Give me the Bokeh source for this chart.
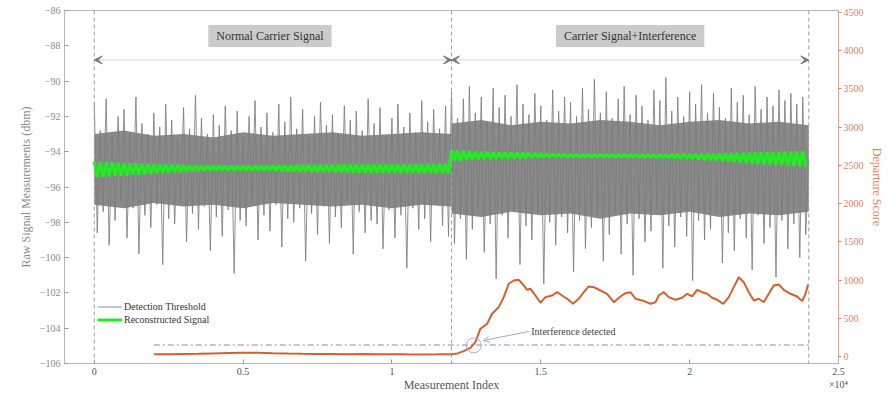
import numpy as np
from bokeh.plotting import figure
from bokeh.models import (Range1d, LinearAxis, FixedTicker, Span, Label, Arrow,
                          VeeHead, OpenHead, Legend, LegendItem)
from bokeh.embed import file_html
from bokeh.resources import INLINE

# ---------------- data ----------------
# raw signal samples (every 100 measurement indices), normal carrier segment
raw_normal = [
    -91.2, -98.6, -92.8, -97.4, -91.0, -99.3, -93.1, -97.9, -92.0, -96.8,
    -91.6, -98.9, -92.9, -97.2, -90.9, -99.8, -92.4, -97.6, -93.0, -98.3,
    -91.8, -97.0, -92.6, -100.4, -91.3, -97.8, -92.2, -98.1, -93.3, -96.9,
    -91.5, -99.1, -92.7, -97.5, -90.8, -98.4, -92.1, -97.1, -93.0, -99.6,
    -91.9, -97.7, -92.5, -98.8, -91.4, -97.3, -92.8, -100.9, -91.7, -97.9,
    -93.2, -98.2, -92.0, -96.9, -91.1, -99.0, -92.6, -97.6, -91.8, -98.5,
    -92.9, -97.0, -91.3, -99.4, -92.3, -97.8, -90.9, -98.0, -92.7, -97.2,
    -91.6, -100.2, -93.1, -97.5, -92.0, -98.7, -91.2, -97.1, -92.5, -99.2,
    -91.9, -97.7, -93.0, -98.3, -91.4, -96.8, -92.2, -99.8, -91.7, -97.4,
    -92.8, -98.6, -91.0, -97.9, -92.4, -98.1, -91.5, -99.5, -93.2, -97.3,
    -92.1, -98.9, -91.3, -97.6, -92.6, -100.6, -91.8, -97.2, -92.9, -98.4,
    -91.1, -97.8, -92.3, -99.1, -91.6, -97.0, -92.7, -98.2, -91.4, -98.8,
]
# carrier + interference segment
raw_interf = [
    -90.6, -99.2, -92.1, -97.8, -91.0, -100.1, -90.3, -98.4, -91.8, -97.3,
    -90.9, -99.7, -92.3, -98.1, -90.4, -101.2, -91.5, -97.6, -90.8, -98.9,
    -92.0, -97.4, -90.2, -100.4, -91.3, -98.2, -91.9, -99.0, -90.7, -97.5,
    -91.4, -101.5, -92.2, -98.0, -90.5, -99.3, -91.7, -97.7, -90.9, -98.6,
    -91.2, -100.8, -92.0, -97.9, -90.4, -99.5, -91.6, -98.3, -89.9, -97.6,
    -91.8, -100.2, -90.6, -98.7, -92.1, -97.4, -91.0, -99.8, -90.3, -98.1,
    -91.9, -101.0, -90.8, -97.8, -91.4, -99.1, -92.2, -98.5, -90.5, -97.3,
    -91.1, -100.6, -89.8, -98.2, -91.7, -99.4, -90.9, -97.7, -92.0, -98.8,
    -90.6, -101.3, -91.3, -97.9, -90.2, -99.0, -91.8, -98.4, -90.7, -97.5,
    -91.5, -100.3, -92.1, -98.6, -90.4, -99.6, -91.2, -97.8, -90.8, -98.9,
    -91.9, -100.7, -90.3, -97.6, -91.6, -99.2, -90.9, -98.3, -91.4, -101.1,
    -90.5, -97.9, -91.1, -99.5, -90.7, -98.1, -91.3, -100.0, -90.9, -98.7,
    -94.5,
]
raw_step = 100

# dense core of the raw signal (upper / lower edge, read every 1000 indices)
core_x = [0, 1000, 2000, 3000, 4000, 5000, 6000, 7000, 8000, 9000, 10000, 11000, 12000,
          12000, 13000, 14000, 15000, 16000, 17000, 18000, 19000, 20000, 21000, 22000,
          23000, 24000]
core_top = [-93.0, -92.8, -93.1, -93.0, -93.2, -92.9, -93.1, -93.0, -92.9, -93.1, -93.0,
            -92.9, -93.0,
            -92.4, -92.2, -92.5, -92.3, -92.4, -92.2, -92.3, -92.5, -92.3, -92.2, -92.4,
            -92.3, -92.5]
core_bot = [-97.0, -97.2, -96.9, -97.1, -97.0, -97.2, -96.9, -97.0, -97.1, -97.0, -97.2,
            -97.0, -97.1,
            -97.5, -97.7, -97.4, -97.6, -97.5, -97.8, -97.5, -97.6, -97.4, -97.7, -97.5,
            -97.6, -97.4]

# reconstructed signal: peaks / troughs (one pair per 200 indices)
recon_hi = [
    -94.55, -94.58, -94.60, -94.60, -94.62, -94.64, -94.66, -94.66, -94.68, -94.70,
    -94.70, -94.72, -94.72, -94.74, -94.75, -94.76, -94.76, -94.77, -94.78, -94.78,
    -94.79, -94.79, -94.80, -94.80, -94.80, -94.80, -94.79, -94.79, -94.78, -94.78,
    -94.77, -94.77, -94.76, -94.76, -94.76, -94.75, -94.75, -94.75, -94.74, -94.74,
    -94.74, -94.74, -94.73, -94.73, -94.73, -94.73, -94.72, -94.72, -94.72, -94.72,
    -94.72, -94.72, -94.71, -94.71, -94.71, -94.71, -94.70, -94.70, -94.70, -94.70,
    -93.90, -93.92, -93.94, -93.96, -93.98, -94.00, -94.01, -94.02, -94.03, -94.04,
    -94.05, -94.06, -94.07, -94.08, -94.09, -94.10, -94.11, -94.12, -94.13, -94.14,
    -94.15, -94.15, -94.16, -94.16, -94.16, -94.17, -94.17, -94.17, -94.17, -94.17,
    -94.17, -94.17, -94.16, -94.16, -94.16, -94.15, -94.15, -94.15, -94.14, -94.14,
    -94.13, -94.13, -94.12, -94.12, -94.11, -94.10, -94.09, -94.08, -94.07, -94.06,
    -94.05, -94.04, -94.03, -94.02, -94.01, -94.00, -93.99, -93.98, -93.97, -93.96,
]
recon_lo = [
    -95.45, -95.42, -95.40, -95.38, -95.36, -95.34, -95.30, -95.30, -95.28, -95.25,
    -95.22, -95.20, -95.18, -95.16, -95.15, -95.12, -95.10, -95.08, -95.07, -95.06,
    -95.05, -95.05, -95.04, -95.04, -95.04, -95.05, -95.05, -95.06, -95.07, -95.08,
    -95.09, -95.10, -95.10, -95.11, -95.12, -95.12, -95.13, -95.14, -95.14, -95.15,
    -95.15, -95.16, -95.16, -95.17, -95.17, -95.18, -95.18, -95.18, -95.19, -95.19,
    -95.19, -95.20, -95.20, -95.20, -95.21, -95.21, -95.21, -95.22, -95.22, -95.22,
    -94.52, -94.50, -94.48, -94.46, -94.44, -94.42, -94.41, -94.40, -94.39, -94.38,
    -94.37, -94.36, -94.35, -94.34, -94.33, -94.32, -94.31, -94.30, -94.30, -94.29,
    -94.29, -94.29, -94.29, -94.29, -94.29, -94.29, -94.30, -94.30, -94.30, -94.31,
    -94.31, -94.32, -94.32, -94.33, -94.34, -94.35, -94.36, -94.37, -94.38, -94.40,
    -94.42, -94.44, -94.46, -94.48, -94.50, -94.52, -94.55, -94.58, -94.61, -94.64,
    -94.67, -94.70, -94.72, -94.74, -94.76, -94.78, -94.80, -94.82, -94.84, -94.86,
]

# departure score
dep_x = [2000, 2500, 3000, 3500, 4000, 4500, 5000, 5500, 6000, 6500, 7000, 7500,
         8000, 8500, 9000, 9500, 10000, 10500, 11000, 11500, 12000,
         12200, 12410, 12634, 12802, 12970, 13195, 13363, 13587, 13755, 13923,
         14091, 14259, 14427, 14539, 14651, 14819, 14987, 15155, 15379, 15547,
         15716, 15884, 16085, 16275, 16443, 16611, 16779, 17003, 17227, 17451,
         17675, 17843, 18011, 18179, 18403, 18683, 18851, 18963, 19131, 19299,
         19523, 19747, 19915, 20083, 20251, 20419, 20587, 20755, 20923, 21125,
         21314, 21482, 21650, 21818, 21986, 22154, 22322, 22490, 22658, 22826,
         22994, 23162, 23387, 23611, 23779, 23890, 23981]
dep_y = [30, 28, 32, 35, 40, 45, 50, 48, 42, 38, 35, 33,
         32, 30, 31, 29, 30, 28, 27, 28, 30,
         40, 70, 113, 188, 362, 427, 558, 645, 776, 951,
         994, 1003, 929, 872, 885, 798, 702, 776, 798, 841,
         798, 755, 689, 755, 841, 916, 907, 863, 820, 710,
         785, 828, 841, 755, 733, 689, 710, 798, 841, 776,
         742, 768, 820, 785, 872, 841, 820, 768, 742, 689,
         776, 907, 1037, 972, 841, 733, 755, 710, 820, 929,
         942, 872, 820, 785, 724, 820, 942]

threshold_x = [2000, 24000]
threshold_y = [150, 150]

segment_edges = [0, 12000, 24000]
segment_names = ["Normal Carrier Signal", "Carrier Signal+Interference"]
detect_x, detect_y = 12750, 145

x_ticks = [0, 5000, 10000, 15000, 20000, 25000]
x_tick_labels = ["0", "0.5", "1", "1.5", "2", "2.5\n\u00d710\u2074"]
left_ticks = list(range(-106, -85, 2))
right_ticks = list(range(0, 4501, 500))

# ---------------- figure ----------------
SERIF = "Liberation Serif"
ORANGE = "#d4602c"
ORANGE_T = "#e0825a"

p = figure(width=890, height=395, output_backend="svg", toolbar_location=None,
           x_range=Range1d(-1000, 25000), y_range=Range1d(-106, -86),
           min_border_left=64, min_border_right=52, min_border_top=10,
           min_border_bottom=32)
p.extra_y_ranges = {"right": Range1d(-92, 4526)}
p.xgrid.visible = False
p.ygrid.visible = False
p.outline_line_color = "#b5b5b5"
p.background_fill_color = "white"
p.border_fill_color = "white"

p.varea(x=core_x, y1=core_bot, y2=core_top, fill_color="#8a8a8a", fill_alpha=1.0)
raw = raw_normal + raw_interf
raw_x = np.arange(len(raw)) * raw_step
gray_r = p.line(raw_x, raw, line_color="#7d7d7d", line_width=1, line_alpha=0.85)

recon_y = [v for pair in zip(recon_hi, recon_lo) for v in pair]
recon_x = np.arange(len(recon_y)) * 100
green_r = p.line(recon_x, recon_y, line_color="#1ef01e", line_width=3)

p.line(threshold_x, threshold_y, y_range_name="right", line_color="#8c86b8",
       line_width=1, line_dash="6 3 2 3")
p.line(dep_x, dep_y, y_range_name="right", line_color=ORANGE, line_width=2)

for e in segment_edges:
    p.add_layout(Span(location=e, dimension="height", line_color="#a0a0a0",
                      line_dash="4 3", line_width=1))

# segment arrows and boxes
arrow_y = -88.8
for i in range(2):
    p.add_layout(Arrow(x_start=segment_edges[i], x_end=segment_edges[i + 1],
                       y_start=arrow_y, y_end=arrow_y,
                       line_color="#d5d5d5", line_width=1,
                       start=VeeHead(size=8, fill_color="#777777", line_color="#777777"),
                       end=VeeHead(size=8, fill_color="#777777", line_color="#777777")))
box_x = [5900, 18000]
for i in range(2):
    p.add_layout(Label(x=box_x[i], y=-87.45, text=segment_names[i],
                       text_align="center", text_baseline="middle",
                       text_font=SERIF, text_font_size="12px", text_color="#333333",
                       background_fill_color="#cbcbcb", padding=(8, 4)))

# interference detected annotation
p.scatter([detect_x], [detect_y], y_range_name="right", marker="circle", size=15,
          fill_alpha=0, line_color="#9fb0d0", line_width=1)
p.add_layout(Arrow(x_start=14600, y_start=327, x_end=13070, y_end=209,
                   y_range_name="right", line_color="#9aaccc", line_width=1,
                   end=OpenHead(size=6, line_color="#9aaccc", line_width=1)))
p.add_layout(Label(x=14680, y=327, y_range_name="right", text="Interference detected",
                   text_font=SERIF, text_font_size="10px", text_color="#444444",
                   text_baseline="middle", text_align="left"))

# axes
p.xaxis.ticker = FixedTicker(ticks=x_ticks)
p.xaxis.major_label_overrides = dict(zip(x_ticks, x_tick_labels))
p.yaxis.ticker = FixedTicker(ticks=left_ticks)

for ax in (p.xaxis[0], p.yaxis[0]):
    ax.axis_line_color = "#b5b5b5"
    ax.major_tick_line_color = "#9a9a9a"
    ax.major_tick_in = 4
    ax.major_tick_out = 0
    ax.minor_tick_line_color = None
    ax.major_label_text_font = SERIF
    ax.major_label_text_font_size = "10px"

p.xaxis.major_label_text_color = "#555555"
p.xaxis.major_label_standoff = 2
p.xaxis.axis_label = "Measurement Index"
p.xaxis.axis_label_text_font = SERIF
p.xaxis.axis_label_text_font_style = "normal"
p.xaxis.axis_label_text_font_size = "12px"
p.xaxis.axis_label_text_color = "#555555"
p.xaxis.axis_label_standoff = -15

p.yaxis.major_label_text_color = "#8a8a8a"
p.yaxis.major_label_standoff = 4
p.yaxis.axis_label = "Raw Signal Measurements (dbm)"
p.yaxis.axis_label_text_font = SERIF
p.yaxis.axis_label_text_font_style = "normal"
p.yaxis.axis_label_text_font_size = "12px"
p.yaxis.axis_label_text_color = "#8a8a8a"
p.yaxis.axis_label_standoff = 4

ry = LinearAxis(y_range_name="right", ticker=FixedTicker(ticks=right_ticks))
ry.axis_line_color = "#e6a585"
ry.major_tick_line_color = "#e0825a"
ry.major_tick_in = 0
ry.major_tick_out = 3
ry.minor_tick_line_color = None
ry.major_label_text_font = SERIF
ry.major_label_text_font_size = "10px"
ry.major_label_text_color = ORANGE_T
ry.major_label_standoff = 2
ry.axis_label = "Departure Score"
ry.axis_label_text_font = SERIF
ry.axis_label_text_font_style = "normal"
ry.axis_label_text_font_size = "12px"
ry.axis_label_text_color = ORANGE_T
ry.axis_label_standoff = 3
p.add_layout(ry, "right")

legend = Legend(items=[LegendItem(label="Detection Threshold", renderers=[gray_r]),
                       LegendItem(label="Reconstructed Signal", renderers=[green_r])],
                location=(33, 37), background_fill_alpha=0, border_line_color=None,
                padding=0, margin=0, spacing=0, glyph_width=25, glyph_height=13,
                label_height=13, label_standoff=2,
                label_text_font=SERIF, label_text_font_size="10px",
                label_text_color="#333333")
p.add_layout(legend, "center")

open("out.html", "w").write(file_html(p, INLINE))
